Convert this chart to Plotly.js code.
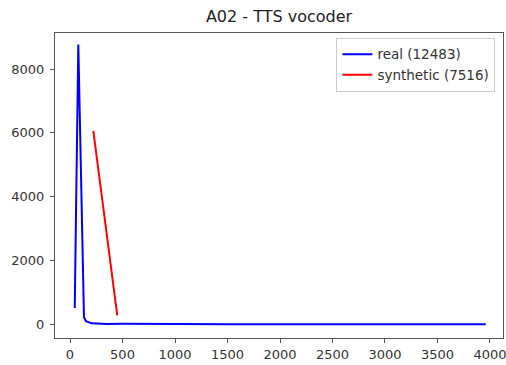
<!DOCTYPE html>
<html>
<head>
<meta charset="utf-8">
<script src="https://cdn.plot.ly/plotly-3.0.1.min.js"></script>
<style>
html,body{margin:0;padding:0;background:#fff;}
#chart{width:506px;height:365px;}
</style>
</head>
<body>
<div id="chart"></div>
<script>
var chartTitle = "A02 - TTS vocoder";
var realName = "real (12483)";
var synthName = "synthetic (7516)";
var realX = [45, 79, 133, 152, 207, 260, 350, 500, 700, 1000, 1500, 2000, 2500, 3000, 3500, 3960];
var realY = [510, 8770, 220, 100, 30, 18, 12, 15, 8, 5, 3, 2, 2, 1, 1, 0];
var synthX = [222, 450];
var synthY = [6065, 280];
var xTicks = [0, 500, 1000, 1500, 2000, 2500, 3000, 3500, 4000];
var yTicks = [0, 2000, 4000, 6000, 8000];

var font = "DejaVu Sans, sans-serif";
var traces = [
  {x: realX, y: realY, type: "scatter", mode: "lines", name: realName,
   line: {color: "#0000ff", width: 2}},
  {x: synthX, y: synthY, type: "scatter", mode: "lines", name: synthName,
   line: {color: "#ff0000", width: 2}}
];
var axisCommon = {
  showgrid: false, zeroline: false, showline: true, mirror: true,
  linecolor: "#555", linewidth: 1, ticks: "outside", ticklen: 4,
  tickcolor: "#555", ticklabeloverflow: "allow",
  tickfont: {family: font, size: 13, color: "#333"}
};
var layout = {
  width: 506, height: 365,
  margin: {l: 55, r: 3, t: 33, b: 27},
  paper_bgcolor: "#fff", plot_bgcolor: "#fff",
  title: {text: chartTitle, font: {family: font, size: 16, color: "#222"},
          x: 0.5, xref: "paper", y: 1 - 16/365, yref: "container", yanchor: "middle"},
  xaxis: Object.assign({}, axisCommon, {range: [-143, 4124], tickvals: xTicks}),
  yaxis: Object.assign({}, axisCommon, {range: [-430, 9130], tickvals: yTicks, ticklabelstandoff: 3}),
  showlegend: true,
  legend: {x: 0.983, y: 0.984, xanchor: "right", yanchor: "top",
           bgcolor: "#fff", bordercolor: "#ccc", borderwidth: 1,
           itemwidth: 30, font: {family: font, size: 13.5, color: "#333"}}
};
Plotly.newPlot("chart", traces, layout, {displayModeBar: false, staticPlot: true});
</script>
</body>
</html>
